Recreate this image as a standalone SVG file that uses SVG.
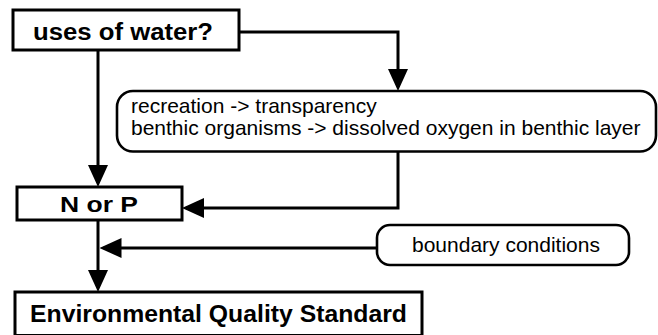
<svg xmlns="http://www.w3.org/2000/svg" width="658" height="335" viewBox="0 0 658 335">
<style>
.box{fill:#fff;stroke:#000;stroke-width:3}
.rbox{fill:#fff;stroke:#000;stroke-width:2.6}
.bt{font-family:"Liberation Sans",Arial,sans-serif;font-weight:bold;fill:#000}
.t{font-family:"Liberation Sans",Arial,sans-serif;font-size:21px;fill:#000}
.c{fill:none;stroke:#000;stroke-width:3}
</style>
<defs>
<marker id="ah" markerUnits="userSpaceOnUse" markerWidth="22" markerHeight="20" viewBox="0 0 22 20" refX="18" refY="10" orient="auto">
<path d="M0,0 L22,10 L0,20 Z" fill="#000"/>
</marker>
</defs>
<rect width="658" height="335" fill="#fff"/>
<g id="connectors">
<path class="c" d="M239,32 H398 V87" marker-end="url(#ah)"/>
<path class="c" d="M98,50 V183" marker-end="url(#ah)"/>
<path class="c" d="M398,152 V208 H186" marker-end="url(#ah)"/>
<path class="c" d="M98,220 V288" marker-end="url(#ah)"/>
<path class="c" d="M377,248 H103.5" marker-end="url(#ah)"/>
</g>
<g id="uses">
<rect class="box" x="13" y="10" width="226" height="40"/>
<text class="bt" x="33" y="39.5" font-size="23" textLength="180" lengthAdjust="spacingAndGlyphs">uses of water?</text>
</g>
<g id="uses-detail">
<rect class="rbox" x="117" y="91" width="539" height="60.5" rx="16" ry="16"/>
<text class="t" x="131" y="113">recreation -&gt; transparency</text>
<text class="t" x="131" y="135">benthic organisms -&gt; dissolved oxygen in benthic layer</text>
</g>
<g id="norp">
<rect class="box" x="17" y="187" width="165" height="33"/>
<text class="bt" x="60" y="211.5" font-size="22.5" textLength="78" lengthAdjust="spacingAndGlyphs">N or P</text>
</g>
<g id="boundary">
<rect class="rbox" x="377" y="225" width="252" height="40" rx="13" ry="13"/>
<text class="t" x="412" y="252">boundary conditions</text>
</g>
<g id="eqs">
<rect class="box" x="15" y="292" width="407" height="43.5"/>
<text class="bt" x="30" y="322" font-size="23" textLength="377" lengthAdjust="spacingAndGlyphs">Environmental Quality Standard</text>
</g>
</svg>
